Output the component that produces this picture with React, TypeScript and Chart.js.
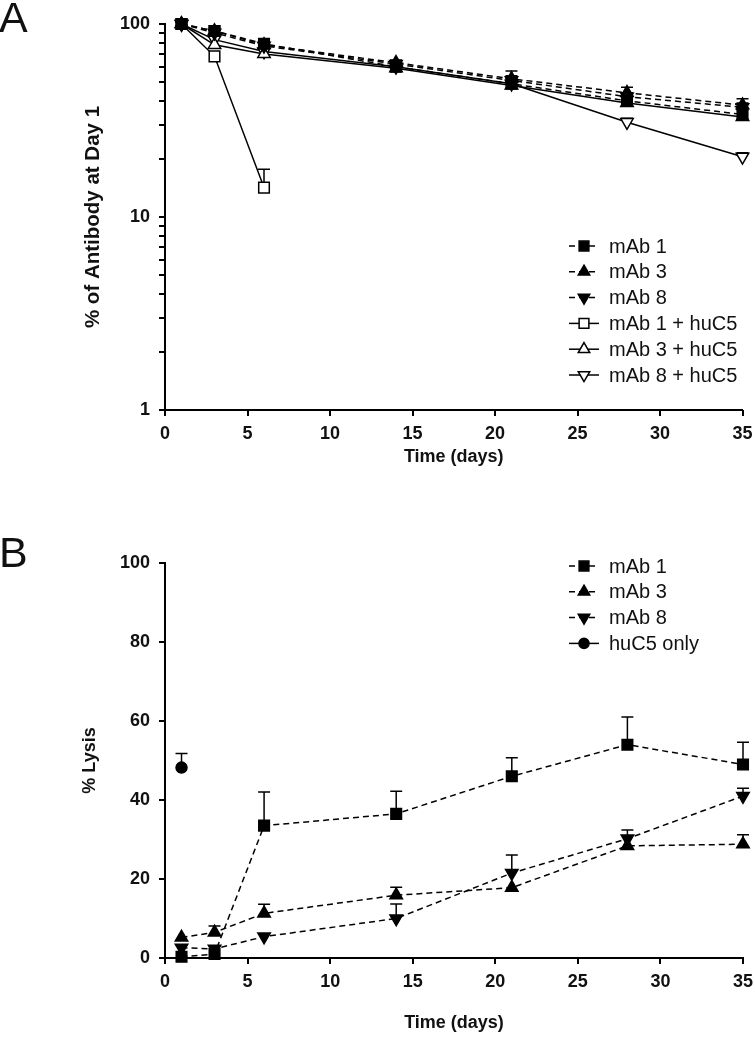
import React, { useEffect, useRef } from 'react';
import { Chart, registerables } from 'chart.js';

Chart.register(...registerables);

// ---------- shared ----------
const days = [1, 3, 6, 14, 21, 28, 35];
const daysShort = [1, 3, 6];
const daysHuC5 = [1];
const xTickValues = [0, 5, 10, 15, 20, 25, 30, 35];
const logTickValues = [1, 2, 3, 4, 5, 6, 7, 8, 9, 10, 20, 30, 40, 50, 60, 70, 80, 90, 100];
const logTickLabels = [1, 10, 100];
const linTickValues = [0, 20, 40, 60, 80, 100];

// ---------- Panel A: % of antibody at day 1 ----------
const labelsA = ['mAb 1', 'mAb 3', 'mAb 8', 'mAb 1 + huC5', 'mAb 3 + huC5', 'mAb 8 + huC5'];
const mAb1A = [100, 92, 79, 60, 49, 40, 34];
const mAb1ErrA = [0, 4, 3, 2, 3, 3, 2];
const mAb3A = [100, 92, 78, 63, 52, 44, 38];
const mAb3ErrA = [0, 6, 3, 2, 5, 3, 3];
const mAb8A = [100, 90, 77, 62, 51, 42, 37];
const mAb8ErrA = [0, 4, 2, 2, 3, 2, 2];
const mAb1HuC5A = [100, 68, 14.2];
const mAb1HuC5ErrA = [0, 0, 3.5];
const mAb3HuC5A = [100, 78, 70, 59, 48, 39, 33];
const mAb3HuC5ErrA = [0, 0, 0, 0, 0, 0, 0];
const mAb8HuC5A = [100, 83, 72, 60, 49, 31, 20.5];
const mAb8HuC5ErrA = [0, 0, 0, 0, 0, 1.5, 1];

// ---------- Panel B: % lysis ----------
const labelsB = ['mAb 1', 'mAb 3', 'mAb 8', 'huC5 only'];
const mAb1B = [0.3, 1, 33.5, 36.5, 46, 54, 49];
const mAb1ErrB = [0, 0, 8.5, 5.7, 4.7, 7, 5.6];
const mAb3B = [5.2, 6.5, 11.3, 15.9, 17.8, 28.4, 28.8];
const mAb3ErrB = [0, 1.6, 2.3, 2, 0, 0, 2.4];
const mAb8B = [2.6, 2.3, 5.4, 10, 21.5, 30.2, 41];
const mAb8ErrB = [0, 0, 0, 3.7, 4.6, 2.2, 2];
const huC5B = [48.2];
const huC5ErrB = [3.6];

const FONT = '"Liberation Sans", Arial, Helvetica, sans-serif';
const BLACK = '#000';

function pts(xs: number[], ys: number[]) {
  return ys.map((y, i) => ({ x: xs[i], y }));
}

function mkSet(label: string, xs: number[], ys: number[], errs: number[], style: string, rot: number, filled: boolean, dashed: boolean) {
  const r = style === 'rect' ? 7.5 : style === 'circle' ? 5.5 : 7.2;
  return {
    label,
    data: pts(xs, ys),
    errors: errs,
    borderColor: BLACK,
    backgroundColor: filled ? BLACK : '#fff',
    borderWidth: 1.5,
    borderDash: dashed ? [6, 4] : [],
    pointStyle: style,
    pointRotation: rot,
    pointRadius: r,
    pointBorderWidth: 1.5,
    pointBackgroundColor: filled ? BLACK : '#fff',
    pointBorderColor: BLACK,
    showLine: true,
    tension: 0,
    clip: false as any,
    fill: false,
  };
}

function drawMarker(ctx: CanvasRenderingContext2D, style: string, rot: number, x: number, y: number, r: number, filled: boolean) {
  ctx.save();
  ctx.setLineDash([]);
  ctx.beginPath();
  if (style === 'rect') {
    const h = r / Math.SQRT2;
    ctx.rect(x - h, y - h, 2 * h, 2 * h);
  } else if (style === 'triangle') {
    let rad = (rot * Math.PI) / 180;
    ctx.moveTo(x + Math.sin(rad) * r, y - Math.cos(rad) * r);
    rad += (2 * Math.PI) / 3;
    ctx.lineTo(x + Math.sin(rad) * r, y - Math.cos(rad) * r);
    rad += (2 * Math.PI) / 3;
    ctx.lineTo(x + Math.sin(rad) * r, y - Math.cos(rad) * r);
    ctx.closePath();
  } else {
    ctx.arc(x, y, r, 0, Math.PI * 2);
  }
  ctx.fillStyle = filled ? BLACK : '#fff';
  ctx.fill();
  ctx.lineWidth = 1.5;
  ctx.strokeStyle = BLACK;
  ctx.stroke();
  ctx.restore();
}

// error bars, axis tick marks, legend and titles in one plugin per chart
function makeDecorPlugin(yTickVals: number[], xTickVals: number[], cfg: any) {
  return {
    id: 'decor' + cfg.letter,
    beforeDatasetsDraw(chart: any) {
      const ctx = chart.ctx;
      const ys = chart.scales.y;
      ctx.save();
      ctx.strokeStyle = BLACK;
      ctx.lineWidth = 1.5;
      ctx.setLineDash([]);
      chart.data.datasets.forEach((ds: any, di: number) => {
        const meta = chart.getDatasetMeta(di);
        (ds.errors || []).forEach((e: number, i: number) => {
          if (!e) return;
          const el = meta.data[i];
          if (!el) return;
          const yTop = ys.getPixelForValue(ds.data[i].y + e);
          ctx.beginPath();
          ctx.moveTo(el.x, el.y);
          ctx.lineTo(el.x, yTop);
          ctx.moveTo(el.x - 6, yTop);
          ctx.lineTo(el.x + 6, yTop);
          ctx.stroke();
        });
      });
      ctx.restore();
    },
    afterDraw(chart: any) {
      const ctx = chart.ctx;
      const ca = chart.chartArea;
      const ys = chart.scales.y;
      const xs = chart.scales.x;
      ctx.save();
      // tick marks
      ctx.fillStyle = BLACK;
      yTickVals.forEach((v) => {
        const p = Math.round(ys.getPixelForValue(v));
        ctx.fillRect(ca.left - 6, p - 1, 6, 2);
      });
      xTickVals.forEach((v) => {
        const p = Math.round(xs.getPixelForValue(v));
        ctx.fillRect(p - 1, ca.bottom, 2, 6);
      });
      // legend
      chart.data.datasets.forEach((ds: any, i: number) => {
        const y = cfg.legendY0 + i * cfg.legendStep;
        const x0 = cfg.legendX0;
        ctx.beginPath();
        ctx.setLineDash(ds.borderDash && ds.borderDash.length ? [6, 4] : []);
        ctx.lineWidth = 1.5;
        ctx.strokeStyle = BLACK;
        ctx.moveTo(x0, y);
        ctx.lineTo(x0 + 30, y);
        ctx.stroke();
        ctx.setLineDash([]);
        const filled = ds.pointBackgroundColor === BLACK;
        drawMarker(ctx, ds.pointStyle, ds.pointRotation, x0 + 15, y, ds.pointRadius * 0.92, filled);
        ctx.fillStyle = '#111';
        ctx.font = `20px ${FONT}`;
        ctx.textAlign = 'left';
        ctx.textBaseline = 'middle';
        ctx.fillText(ds.label, x0 + 40, y + 1);
      });
      // panel letter
      ctx.fillStyle = '#111';
      ctx.font = `43px ${FONT}`;
      ctx.textAlign = 'left';
      ctx.textBaseline = 'alphabetic';
      ctx.fillText(cfg.letter, -1, cfg.letterY);
      // x title
      ctx.font = `bold 18px ${FONT}`;
      ctx.textAlign = 'center';
      ctx.textBaseline = 'middle';
      ctx.fillText('Time (days)', (ca.left + ca.right) / 2, cfg.xTitleY);
      // y title
      ctx.font = `bold ${cfg.yTitleSize}px ${FONT}`;
      ctx.translate(cfg.yTitleX, (ca.top + ca.bottom) / 2);
      ctx.rotate(-Math.PI / 2);
      ctx.fillText(cfg.yTitle, 0, 0);
      ctx.restore();
    },
  };
}

function baseX(xAxisHeight: number) {
  return {
    type: 'linear',
    min: 0,
    max: 35,
    afterBuildTicks: (scale: any) => {
      scale.ticks = xTickValues.map((v) => ({ value: v }));
    },
    afterFit: (scale: any) => {
      scale.height = xAxisHeight;
      scale.paddingLeft = 0;
      scale.paddingRight = 0;
    },
    border: { display: true, color: BLACK, width: 2 },
    grid: { display: false },
    ticks: {
      color: '#111',
      font: { family: FONT, size: 18, weight: 'bold' },
      padding: 5,
      maxRotation: 0,
      autoSkip: false,
      callback: (v: any) => String(v),
    },
  };
}

function yBase() {
  return {
    afterFit: (scale: any) => {
      scale.width = 165;
    },
    border: { display: true, color: BLACK, width: 2 },
    grid: { display: false },
  };
}

function PanelA() {
  const ref = useRef<HTMLCanvasElement>(null);
  useEffect(() => {
    const chart = new Chart(ref.current as HTMLCanvasElement, {
      type: 'line',
      data: {
        datasets: [
          mkSet(labelsA[0], days, mAb1A, mAb1ErrA, 'rect', 0, true, true),
          mkSet(labelsA[1], days, mAb3A, mAb3ErrA, 'triangle', 0, true, true),
          mkSet(labelsA[2], days, mAb8A, mAb8ErrA, 'triangle', 180, true, true),
          mkSet(labelsA[3], daysShort, mAb1HuC5A, mAb1HuC5ErrA, 'rect', 0, false, false),
          mkSet(labelsA[4], days, mAb3HuC5A, mAb3HuC5ErrA, 'triangle', 0, false, false),
          mkSet(labelsA[5], days, mAb8HuC5A, mAb8HuC5ErrA, 'triangle', 180, false, false),
        ] as any,
      },
      options: {
        responsive: false,
        animation: false,
        devicePixelRatio: 1,
        layout: { padding: { left: 0, top: 24, right: 12.5, bottom: 0 } },
        scales: {
          x: baseX(90) as any,
          y: {
            ...yBase(),
            type: 'logarithmic',
            min: 1,
            max: 100,
            afterBuildTicks: (scale: any) => {
              scale.ticks = logTickValues.map((v) => ({ value: v, major: logTickLabels.includes(v) }));
            },
            ticks: {
              color: '#111',
              font: { family: FONT, size: 18, weight: 'bold' },
              padding: 7,
              autoSkip: false,
              callback: (v: any) => (logTickLabels.includes(Number(v)) ? String(v) : ''),
            },
          } as any,
        },
        plugins: { legend: { display: false }, tooltip: { enabled: false } },
      },
      plugins: [
        makeDecorPlugin(logTickValues, xTickValues, {
          letter: 'A', letterY: 32, xTitleY: 457, yTitle: '% of Antibody at Day 1', yTitleX: 93, yTitleSize: 20.5,
          legendX0: 569, legendY0: 246, legendStep: 25.8,
        }),
      ],
    });
    return () => chart.destroy();
  }, []);
  return <canvas ref={ref} width={755} height={500} style={{ position: 'absolute', left: 0, top: 0 }} />;
}

function PanelB() {
  const ref = useRef<HTMLCanvasElement>(null);
  useEffect(() => {
    const chart = new Chart(ref.current as HTMLCanvasElement, {
      type: 'line',
      data: {
        datasets: [
          mkSet(labelsB[0], days, mAb1B, mAb1ErrB, 'rect', 0, true, true),
          mkSet(labelsB[1], days, mAb3B, mAb3ErrB, 'triangle', 0, true, true),
          mkSet(labelsB[2], days, mAb8B, mAb8ErrB, 'triangle', 180, true, true),
          mkSet(labelsB[3], daysHuC5, huC5B, huC5ErrB, 'circle', 0, true, false),
        ] as any,
      },
      options: {
        responsive: false,
        animation: false,
        devicePixelRatio: 1,
        layout: { padding: { left: 0, top: 43, right: 12, bottom: 0 } },
        scales: {
          x: baseX(79) as any,
          y: {
            ...yBase(),
            type: 'linear',
            min: 0,
            max: 100,
            afterBuildTicks: (scale: any) => {
              scale.ticks = linTickValues.map((v) => ({ value: v }));
            },
            ticks: {
              color: '#111',
              font: { family: FONT, size: 18, weight: 'bold' },
              padding: 7,
              autoSkip: false,
              callback: (v: any) => String(v),
            },
          } as any,
        },
        plugins: { legend: { display: false }, tooltip: { enabled: false } },
      },
      plugins: [
        makeDecorPlugin(linTickValues, xTickValues, {
          letter: 'B', letterY: 47, xTitleY: 503, yTitle: '% Lysis', yTitleX: 90, yTitleSize: 18,
          legendX0: 569, legendY0: 46, legendStep: 25.8,
        }),
      ],
    });
    return () => chart.destroy();
  }, []);
  return <canvas ref={ref} width={755} height={517} style={{ position: 'absolute', left: 0, top: 520 }} />;
}

export default function App() {
  return (
    <div style={{ position: 'absolute', left: 0, top: 0, width: 755, height: 1037, background: '#fff', overflow: 'hidden' }}>
      <PanelA />
      <PanelB />
    </div>
  );
}
